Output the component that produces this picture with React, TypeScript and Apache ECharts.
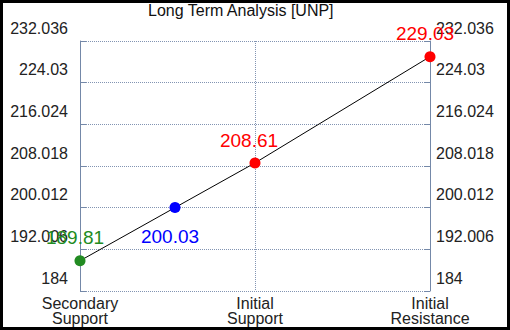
import React, { useEffect, useRef } from "react";
import * as echarts from "echarts";

const chartTitle = "Long Term Analysis [UNP]";
const categories = ["Secondary\nSupport", "Initial\nSupport", "Initial\nResistance"];
const yTicks = [184, 192.006, 200.012, 208.018, 216.024, 224.03, 232.036];
const pointX = [0, 0.543, 1, 2];
const pointValues = [189.81, 200.03, 208.61, 229.03];
const pointColors = ["#228b22", "#0000ff", "#ff0000", "#ff0000"];
const labelOffsets = [
  [-5, -23],
  [-5, 29],
  [-6, -22],
  [-5, -23],
];

const FONT = "'Liberation Sans', Arial, sans-serif";
const AXIS_COLOR = "#7488a8";
const GRID_COLOR = "#8294b2";

export default function App() {
  const ref = useRef<HTMLDivElement>(null);
  useEffect(() => {
    if (!ref.current) return;
    const chart = echarts.init(ref.current, null, { renderer: "svg" });
    const yAxisBase = (pos: "left" | "right", margin: number, split: boolean) => ({
      type: "value",
      position: pos,
      min: yTicks[0],
      max: yTicks[yTicks.length - 1],
      axisLine: { show: true, lineStyle: { color: AXIS_COLOR, width: 1 } },
      axisTick: {
        show: true,
        inside: true,
        length: 6,
        customValues: yTicks,
        lineStyle: { color: AXIS_COLOR, width: 1 },
      },
      axisLabel: {
        customValues: yTicks,
        formatter: (v: number) => String(v),
        fontSize: 16,
        fontFamily: FONT,
        color: "#222",
        margin,
        verticalAlign: "bottom",
        lineHeight: 26,
      },
      splitLine: {
        show: split,
        lineStyle: { color: GRID_COLOR, width: 1, type: [1, 1] },
      },
    });
    chart.setOption({
      animation: false,
      backgroundColor: "#fff",
      title: {
        text: chartTitle,
        left: 148,
        top: 2,
        padding: 0,
        textStyle: { fontSize: 16, fontWeight: "normal", color: "#111", fontFamily: FONT },
      },
      grid: { left: 80, right: 80, top: 41, bottom: 39 },
      xAxis: {
        type: "value",
        min: 0,
        max: categories.length - 1,
        interval: 1,
        axisLine: { show: false },
        axisTick: { show: false },
        axisLabel: {
          formatter: (v: number) => categories[Math.round(v)] ?? "",
          fontSize: 16,
          fontFamily: FONT,
          color: "#222",
          margin: 5,
          lineHeight: 15,
          showMinLabel: true,
          showMaxLabel: true,
        },
        splitLine: {
          show: true,
          lineStyle: { color: GRID_COLOR, width: 1, type: [1, 1] },
        },
      },
      yAxis: [yAxisBase("left", 12, true), yAxisBase("right", 6, false)],
      series: [
        {
          type: "line",
          clip: false,
          symbol: "circle",
          symbolSize: 11,
          lineStyle: { color: "#000", width: 1 },
          data: pointX.map((x, i) => ({
            value: [x, pointValues[i]],
            itemStyle: { color: pointColors[i] },
            label: {
              show: true,
              position: "inside",
              offset: labelOffsets[i],
              color: pointColors[i],
              fontSize: 19,
              fontFamily: FONT,
              formatter: pointValues[i].toFixed(2),
            },
          })),
        },
      ],
      graphic: [
        {
          type: "rect",
          silent: true,
          z: 100,
          shape: { x: 0, y: 0, width: 510, height: 330 },
          style: { fill: "none", stroke: "#000", lineWidth: 6 },
        },
      ],
    });
    return () => chart.dispose();
  }, []);
  return (
    <div
      ref={ref}
      style={{ position: "absolute", left: 0, top: 0, width: 510, height: 330 }}
    />
  );
}
